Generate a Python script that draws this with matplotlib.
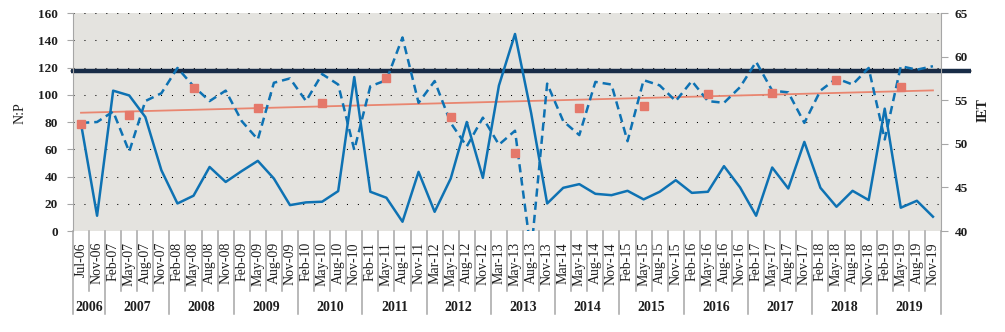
import matplotlib
matplotlib.use("Agg")
import matplotlib.pyplot as plt
import matplotlib.transforms as mtransforms
import numpy as np

plt.rcParams["font.family"] = ["Liberation Serif", "DejaVu Serif"]

# sampling dates (x categories)
cats = [
    "Jul-06", "Nov-06",
    "Feb-07", "May-07", "Aug-07", "Nov-07",
    "Feb-08", "May-08", "Aug-08", "Nov-08",
    "Feb-09", "May-09", "Aug-09", "Nov-09",
    "Feb-10", "May-10", "Aug-10", "Nov-10",
    "Feb-11", "May-11", "Aug-11", "Nov-11",
    "Mar-12", "May-12", "Aug-12", "Nov-12",
    "Mar-13", "May-13", "Aug-13", "Nov-13",
    "Mar-14", "May-14", "Aug-14", "Nov-14",
    "Feb-15", "May-15", "Aug-15", "Nov-15",
    "Feb-16", "May-16", "Aug-16", "Nov-16",
    "Feb-17", "May-17", "Aug-17", "Nov-17",
    "Feb-18", "May-18", "Aug-18", "Nov-18",
    "Feb-19", "May-19", "Aug-19", "Nov-19",
]

# N:P ratio (left axis)
np_ratio = [
    78.8, 11.2, 103.0, 99.5, 83.7, 44.6, 20.2, 25.9, 47.0, 36.0,
    44.0, 51.5, 38.5, 19.0, 21.0, 21.5, 29.3, 113.0, 28.8, 24.4,
    6.8, 43.4, 14.1, 38.5, 80.0, 39.0, 106.8, 144.6, 86.8, 20.2,
    31.7, 34.4, 27.3, 26.3, 29.5, 23.2, 28.8, 37.3, 28.0, 28.8,
    47.6, 32.0, 11.2, 46.6, 31.2, 65.4, 31.7, 17.8, 29.5, 22.7,
    89.8, 17.1, 22.2, 10.5,
]

# IET (right axis)
iet = [
    52.4, 52.5, 53.7, 49.1, 54.9, 55.8, 58.7, 56.6, 54.9, 56.1,
    52.6, 50.5, 57.0, 57.5, 54.9, 58.0, 56.8, 49.3, 56.6, 57.3,
    62.2, 54.7, 57.2, 52.4, 49.7, 53.0, 49.9, 51.5, 37.5, 56.9,
    52.6, 51.0, 57.1, 56.8, 50.3, 57.3, 56.7, 54.9, 57.2, 54.9,
    54.7, 56.5, 59.4, 56.1, 55.9, 52.4, 56.1, 57.5, 56.8, 58.7,
    50.5, 58.9, 58.5, 58.9,
]

# annual mean N:P (squares)
annual_cats = ["Jul-06", "May-07", "May-08", "May-09", "May-10", "May-11", "May-12",
               "May-13", "May-14", "May-15", "May-16", "May-17", "May-18", "May-19"]
annual_np = [78.3, 85.4, 105.1, 90.0, 94.1, 112.4, 83.9,
             57.3, 90.0, 92.0, 100.2, 101.5, 110.5, 105.9]

# linear trend of N:P, first and last date
trend_np = [86.8, 103.2]

# reference level
np_limit = 117.2

blue = "#0E72B3"
salmon = "#E5786A"
navy = "#182C47"
sep_gray = "#A6A6A6"
txt = "#1E1E1E"

x = np.arange(len(cats))
years = [2000 + int(c[-2:]) for c in cats]

fig = plt.figure(figsize=(10.05, 3.32), dpi=100)
ax = fig.add_axes([0.0726, 0.3042, 0.8637, 0.6566])
ax2 = ax.twinx()

ax.set_facecolor("#E4E3DF")
ax.set_xlim(-0.5, len(cats) - 0.5)
ax.set_ylim(0, 160)
ax.set_yticks(range(0, 161, 20))
ax2.set_ylim(40, 65)
ax2.set_yticks(range(40, 66, 5))

# dotted grid
for v in range(20, 161, 20):
    ax.axhline(v, color="black", lw=0.75, ls=(0, (1, 9.5)), zorder=0.5)

# reference line, runs past both axes
tr = mtransforms.blended_transform_factory(ax.transAxes, ax.transData)
ax.plot([-0.002, 1.035], [np_limit + 0.6] * 2, color="#9A9A9A", lw=1.2,
        transform=tr, clip_on=False, zorder=1)
ax.plot([-0.002, 1.035], [np_limit, np_limit], color=navy, lw=3.2,
        transform=tr, clip_on=False, solid_capstyle="butt", zorder=1.5)

ax.plot([x[0], x[-1]], trend_np, color="#E98670", lw=1.3, zorder=2)
ax.plot(x, np_ratio, color=blue, lw=1.8, zorder=3)
ax2.plot(x, iet, color=blue, lw=1.8, ls=(0, (3.3, 2.0)), zorder=3)
ax2.plot([cats.index(c) for c in annual_cats], annual_np, ls="none", marker="s",
         ms=5.2, color=salmon, zorder=4, transform=ax.transData)

for a in (ax, ax2):
    for s in ("top", "bottom"):
        a.spines[s].set_visible(False)
ax.spines["right"].set_visible(False)
ax2.spines["left"].set_visible(False)
ax.spines["left"].set_color(sep_gray)
ax2.spines["right"].set_color(sep_gray)

ax.tick_params(axis="y", length=4, color=sep_gray, pad=7, labelsize=9.5, labelcolor=txt)
ax2.tick_params(axis="y", length=5, color=sep_gray, pad=5, labelsize=9.5, labelcolor=txt)
for lab in ax.get_yticklabels() + ax2.get_yticklabels():
    lab.set_fontweight("bold")

ax.set_xticks(x)
ax.set_xticklabels(cats, rotation=90, fontsize=10, color=txt)
ax.tick_params(axis="x", length=0, pad=8)

ax.set_ylabel("N:P", fontsize=10, color=txt)
ax.yaxis.set_label_coords(-0.053, 0.54)
ax2.set_ylabel("IET", fontsize=10, color=txt, fontweight="bold", rotation=90, va="center")
ax2.yaxis.set_label_coords(1.048, 0.555)

# separators under the axis: short between dates, long between years
xt = mtransforms.blended_transform_factory(ax.transData, ax.transAxes)
for i in range(len(cats) + 1):
    edge = i == 0 or i == len(cats) or years[i] != years[i - 1]
    y_end = -0.381 if edge else -0.275
    ax.plot([i - 0.5, i - 0.5], [0, y_end], color=sep_gray, lw=1.1,
            transform=xt, clip_on=False)

for yr in sorted(set(years)):
    idx = [i for i, y in enumerate(years) if y == yr]
    mid = (idx[0] + idx[-1]) / 2
    ax.text(mid, -0.352, str(yr), transform=xt, ha="center", va="center",
            fontsize=10, fontweight="bold", color=txt)

fig.savefig("out.png", dpi=100)
